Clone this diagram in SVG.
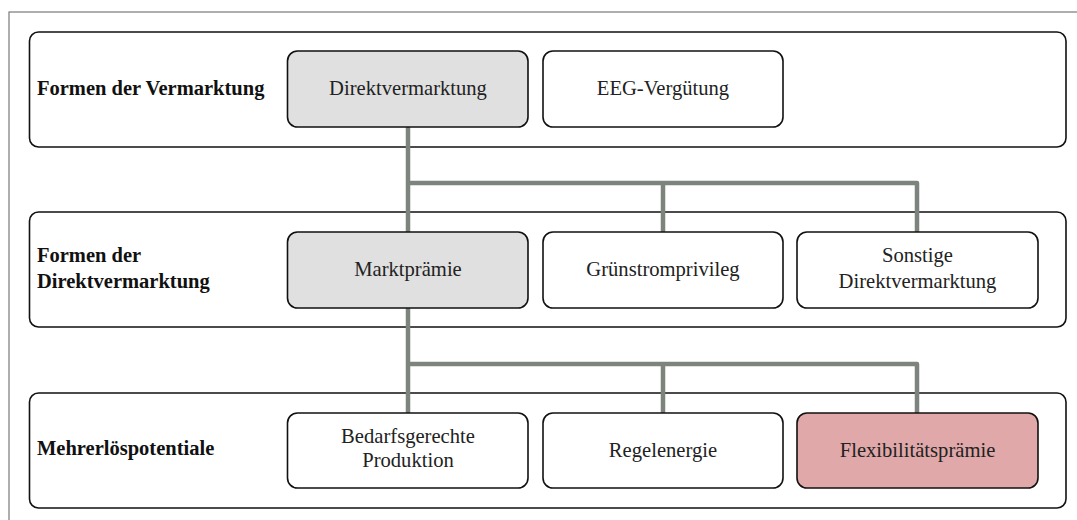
<svg xmlns="http://www.w3.org/2000/svg" width="1077" height="520" viewBox="0 0 1077 520">
<style>
.frame{fill:none;stroke:#7a7a7a;stroke-width:1.2}
.band{fill:#fff;stroke:#111;stroke-width:1.6}
.box{fill:#fff;stroke:#111;stroke-width:1.6}
.grey{fill:#e0e0e0}
.pink{fill:#e0a8a9}
.lbl{font-family:"Liberation Serif","Times New Roman",serif;font-size:20.5px;font-weight:bold;fill:#111}
.txt{font-family:"Liberation Serif","Times New Roman",serif;font-size:20.6px;fill:#222;text-anchor:middle}
.conn{fill:none;stroke:#7d847d;stroke-width:4.5;stroke-linejoin:round}
</style>
<rect width="1077" height="520" fill="#fff"/>
<rect class="frame" x="9" y="12" width="1090" height="530"/>
<g id="band1">
<rect class="band" x="29.5" y="32" width="1036.5" height="115" rx="9"/>
<text class="lbl" x="37" y="95">Formen der Vermarktung</text>
</g>
<g id="band2">
<rect class="band" x="29.5" y="212" width="1036.5" height="115" rx="9"/>
<text class="lbl" x="37" y="262">Formen der</text>
<text class="lbl" x="37" y="288">Direktvermarktung</text>
</g>
<g id="band3">
<rect class="band" x="29.5" y="393" width="1036.5" height="115" rx="9"/>
<text class="lbl" x="37" y="455">Mehrerlöspotentiale</text>
</g>
<g id="connectors">
<path class="conn" d="M408 127 V232 M408 183 H917 V232 M663 183 V232"/>
<path class="conn" d="M408 308 V413 M408 364 H917 V413 M663 364 V413"/>
</g>
<g id="n-direkt">
<rect class="box grey" x="287.5" y="51" width="240.5" height="76" rx="10"/>
<text class="txt" x="408" y="95">Direktvermarktung</text>
</g>
<g id="n-eeg">
<rect class="box" x="543" y="51" width="240" height="76" rx="10"/>
<text class="txt" x="663" y="95">EEG-Vergütung</text>
</g>
<g id="n-markt">
<rect class="box grey" x="287.5" y="232" width="240.5" height="76" rx="10"/>
<text class="txt" x="408" y="276">Marktprämie</text>
</g>
<g id="n-gruen">
<rect class="box" x="543" y="232" width="240" height="76" rx="10"/>
<text class="txt" x="663" y="276">Grünstromprivileg</text>
</g>
<g id="n-sonst">
<rect class="box" x="797" y="232" width="241" height="76" rx="10"/>
<text class="txt" x="917.5" y="262">Sonstige</text>
<text class="txt" x="917.5" y="288">Direktvermarktung</text>
</g>
<g id="n-bedarf">
<rect class="box" x="287.5" y="413" width="240.5" height="75" rx="10"/>
<text class="txt" x="408" y="443">Bedarfsgerechte</text>
<text class="txt" x="408" y="467">Produktion</text>
</g>
<g id="n-regel">
<rect class="box" x="543" y="413" width="240" height="75" rx="10"/>
<text class="txt" x="663" y="457">Regelenergie</text>
</g>
<g id="n-flex">
<rect class="box pink" x="797" y="413" width="241" height="75" rx="10"/>
<text class="txt" x="917.5" y="457">Flexibilitätsprämie</text>
</g>
</svg>
